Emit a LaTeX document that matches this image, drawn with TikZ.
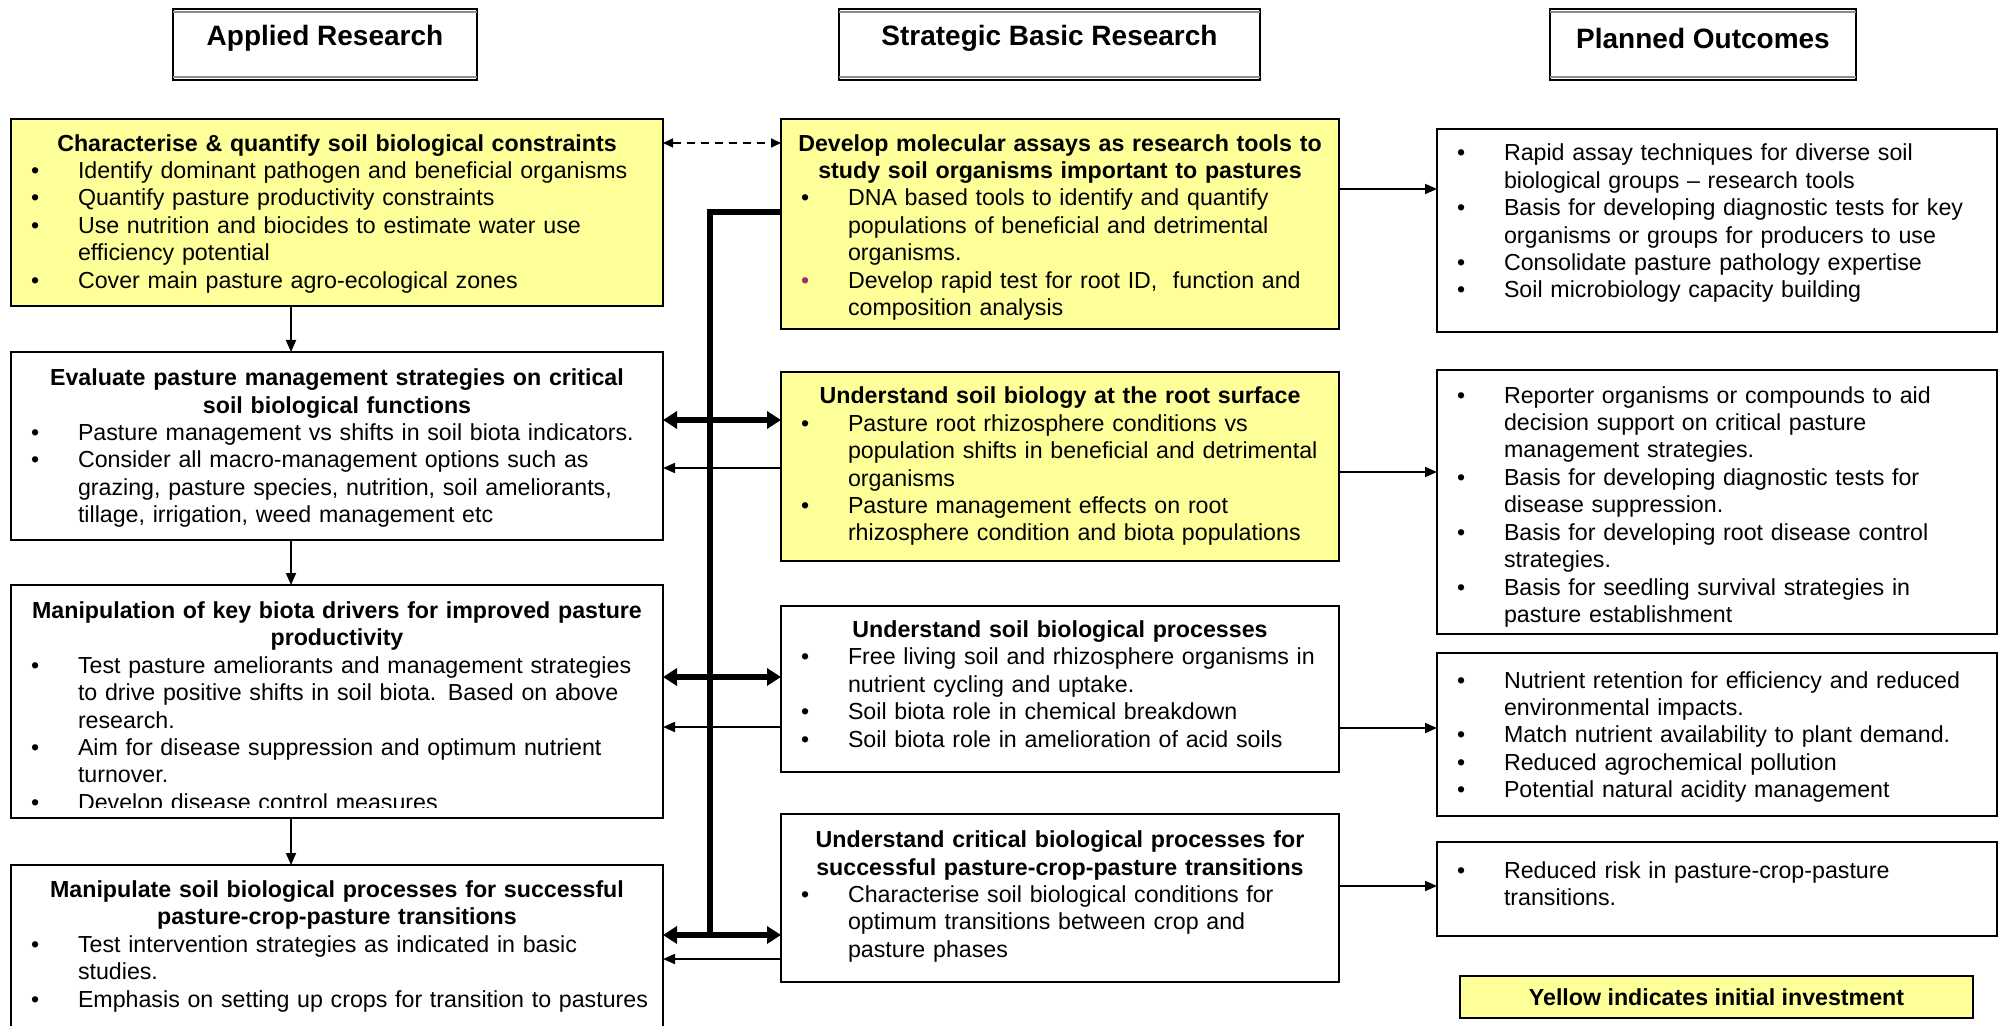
\documentclass[tikz,border=0pt]{standalone}
\usepackage{fontspec}
\setmainfont{Liberation Sans}
\usetikzlibrary{arrows.meta,calc}
\definecolor{boxyellow}{RGB}{255,255,153}
\definecolor{bulpurple}{RGB}{153,51,102}
\newlength{\bulx}\setlength{\bulx}{10pt}
\newlength{\bulw}\setlength{\bulw}{23.5pt}
\newlength{\txtx}\setlength{\txtx}{33.5pt}
\newcommand{\btitle}[1]{\par\noindent\makebox[\hsize][c]{\bfseries\strut #1}}
\newcommand{\bitemc}[2]{\par\noindent\hspace*{\bulx}\makebox[\bulw][l]{\textcolor{#1}{\textbullet}}\mbox{\strut #2}}
\newcommand{\bitem}[1]{\bitemc{black}{#1}}
\newcommand{\bcont}[1]{\par\noindent\hspace*{\txtx}\mbox{\strut #1}}
\newcommand{\mkbox}[6]{\node[#2, minimum width={(#5-#3)*0.5pt}, minimum height={(#6-#4)*0.5pt}] (#1) at ({(#3+#5)/2},{(#4+#6)/2}) {};}
\tikzset{
  box/.style={draw=black, line width=0.9pt, inner sep=0pt, outer sep=0pt},
  ybox/.style={box, fill=boxyellow},
  hbox/.style={draw=black, line width=0.8pt, inner sep=0pt, outer sep=0pt},
  htxt/.style={inner sep=0pt, font={\fontsize{14}{16}\selectfont\bfseries}},
  txt/.style={inner sep=0pt, outer sep=0pt, anchor=north west, font={\fontsize{11.6}{13.7}\selectfont}},
  thinarr/.style={line width=0.9pt, -{Triangle[length=6pt,width=5pt]}},
  thickarr/.style={line width=2.6pt, {Triangle[length=7pt,width=8.5pt]}-{Triangle[length=7pt,width=8.5pt]}},
  dasharr/.style={line width=0.8pt, dash pattern=on 4pt off 3pt, {Triangle[length=5pt,width=4.5pt]}-{Triangle[length=5pt,width=4.5pt]}},
  trunk/.style={line width=2.6pt},
}
\begin{document}
\begin{tikzpicture}[x=0.5pt,y=-0.5pt]
\useasboundingbox (0,0) rectangle (2000,1026);
\clip (0,0) rectangle (2000,1026);

% ---------- headers ----------
\mkbox{HA}{hbox}{173}{9}{477}{80}
\mkbox{HS}{hbox}{839}{9}{1260}{80}
\mkbox{HP}{hbox}{1550}{9}{1856}{80}
\foreach \h in {HA,HS,HP}{
  \draw[line width=1.4pt, black!45] ($(\h.north west)+(0,3)$) -- ($(\h.north east)+(0,3)$);
  \draw[line width=1.4pt, black!45] ($(\h.south west)+(0,-3)$) -- ($(\h.south east)+(0,-3)$);
}
\node[htxt] (hA) at (325,38.5) {Applied Research};
\node[htxt] (hS) at (1049.5,38.5) {Strategic Basic Research};
\node[htxt] (hP) at (1703,38.5) {Planned Outcomes};

% ---------- boxes ----------
\mkbox{A1}{ybox}{11}{119}{663}{306}
\mkbox{A2}{box}{11}{352}{663}{540}
\mkbox{A3}{box}{11}{585}{663}{818}
\mkbox{A4}{box}{11}{865}{663}{1045}
\mkbox{M1}{ybox}{781}{119}{1339}{329}
\mkbox{M2}{ybox}{781}{372}{1339}{561}
\mkbox{M3}{box}{781}{606}{1339}{772}
\mkbox{M4}{box}{781}{814}{1339}{982}
\mkbox{R1}{box}{1437}{129}{1997}{332}
\mkbox{R2}{box}{1437}{370}{1997}{634}
\mkbox{R3}{box}{1437}{653}{1997}{816}
\mkbox{R4}{box}{1437}{842}{1997}{936}
\node[ybox, minimum width=256.5pt, minimum height=21pt, font={\fontsize{11.6}{13.7}\selectfont\bfseries}] (LG) at (1716.5,997) {Yellow indicates initial investment};

% ---------- texts ----------
\node[txt, text width=326pt] (tA1) at ($(A1.north west)+(0,4.7)$) {%
\btitle{Characterise \& quantify soil biological constraints}
\bitem{Identify dominant pathogen and beneficial organisms}
\bitem{Quantify pasture productivity constraints}
\bitem{Use nutrition and biocides to estimate water use}
\bcont{efficiency potential}
\bitem{Cover main pasture agro-ecological zones}};

\node[txt, text width=326pt] (tA2) at ($(A2.north west)+(0,6.3)$) {%
\btitle{Evaluate pasture management strategies on critical}
\btitle{soil biological functions}
\bitem{Pasture management vs shifts in soil biota indicators.}
\bitem{Consider all macro-management options such as}
\bcont{grazing, pasture species, nutrition, soil ameliorants,}
\bcont{tillage, irrigation, weed management etc}};

\begin{scope}
\clip (A3.north west) rectangle ($(A3.south east)+(0,-11)$);
\node[txt, text width=326pt] (tA3) at ($(A3.north west)+(0,6)$) {%
\btitle{Manipulation of key biota drivers for improved pasture}
\btitle{productivity}
\bitem{Test pasture ameliorants and management strategies}
\bcont{to drive positive shifts in soil biota. Based on above}
\bcont{research.}
\bitem{Aim for disease suppression and optimum nutrient}
\bcont{turnover.}
\bitem{Develop disease control measures}};
\end{scope}

\node[txt, text width=326pt] (tA4) at ($(A4.north west)+(0,5)$) {%
\btitle{Manipulate soil biological processes for successful}
\btitle{pasture-crop-pasture transitions}
\bitem{Test intervention strategies as indicated in basic}
\bcont{studies.}
\bitem{Emphasis on setting up crops for transition to pastures}};

\node[txt, text width=279pt] (tM1) at ($(M1.north west)+(0,4.7)$) {%
\btitle{Develop molecular assays as research tools to}
\btitle{study soil organisms important to pastures}
\bitem{DNA based tools to identify and quantify}
\bcont{populations of beneficial and detrimental}
\bcont{organisms.}
\bitemc{bulpurple}{Develop rapid test for root ID, \ function and}
\bcont{composition analysis}};

\node[txt, text width=279pt] (tM2) at ($(M2.north west)+(0,4.5)$) {%
\btitle{Understand soil biology at the root surface}
\bitem{Pasture root rhizosphere conditions vs}
\bcont{population shifts in beneficial and detrimental}
\bcont{organisms}
\bitem{Pasture management effects on root}
\bcont{rhizosphere condition and biota populations}};

\node[txt, text width=279pt] (tM3) at ($(M3.north west)+(0,4)$) {%
\btitle{Understand soil biological processes}
\bitem{Free living soil and rhizosphere organisms in}
\bcont{nutrient cycling and uptake.}
\bitem{Soil biota role in chemical breakdown}
\bitem{Soil biota role in amelioration of acid soils}};

\node[txt, text width=279pt] (tM4) at ($(M4.north west)+(0,6.3)$) {%
\btitle{Understand critical biological processes for}
\btitle{successful pasture-crop-pasture transitions}
\bitem{Characterise soil biological conditions for}
\bcont{optimum transitions between crop and}
\bcont{pasture phases}};

\node[txt, text width=280pt] (tR1) at ($(R1.north west)+(0,4.5)$) {%
\bitem{Rapid assay techniques for diverse soil}
\bcont{biological groups \textendash\ research tools}
\bitem{Basis for developing diagnostic tests for key}
\bcont{organisms or groups for producers to use}
\bitem{Consolidate pasture pathology expertise}
\bitem{Soil microbiology capacity building}};

\node[txt, text width=280pt] (tR2) at ($(R2.north west)+(0,5.8)$) {%
\bitem{Reporter organisms or compounds to aid}
\bcont{decision support on critical pasture}
\bcont{management strategies.}
\bitem{Basis for developing diagnostic tests for}
\bcont{disease suppression.}
\bitem{Basis for developing root disease control}
\bcont{strategies.}
\bitem{Basis for seedling survival strategies in}
\bcont{pasture establishment}};

\node[txt, text width=280pt] (tR3) at ($(R3.north west)+(0,7.6)$) {%
\bitem{Nutrient retention for efficiency and reduced}
\bcont{environmental impacts.}
\bitem{Match nutrient availability to plant demand.}
\bitem{Reduced agrochemical pollution}
\bitem{Potential natural acidity management}};

\node[txt, text width=280pt] (tR4) at ($(R4.north west)+(0,8.7)$) {%
\bitem{Reduced risk in pasture-crop-pasture}
\bcont{transitions.}};

% ---------- connectors ----------
\coordinate (xD) at (291,0);
\draw[thinarr] (A1.south -| xD) -- (A2.north -| xD);
\draw[thinarr] (A2.south -| xD) -- (A3.north -| xD);
\draw[thinarr] (A3.south -| xD) -- (A4.north -| xD);

\coordinate (yDash) at (0,143);
\draw[dasharr] (A1.east |- yDash) -- (M1.west |- yDash);

\coordinate (xT) at (710,0);
\coordinate (yT) at (0,212);
\coordinate (yK1) at (0,420);
\coordinate (yK2) at (0,677);
\coordinate (yK3) at (0,935);
\draw[trunk] (M1.west |- yT) -- (xT |- yT) -- (xT |- yK3);
\draw[thickarr] (A2.east |- yK1) -- (M2.west |- yK1);
\draw[thickarr] (A3.east |- yK2) -- (M3.west |- yK2);
\draw[thickarr] (A4.east |- yK3) -- (M4.west |- yK3);

\coordinate (yN1) at (0,468);
\coordinate (yN2) at (0,727);
\coordinate (yN3) at (0,959);
\draw[thinarr] (M2.west |- yN1) -- (A2.east |- yN1);
\draw[thinarr] (M3.west |- yN2) -- (A3.east |- yN2);
\draw[thinarr] (M4.west |- yN3) -- (A4.east |- yN3);

\coordinate (yR1) at (0,189);
\coordinate (yR2) at (0,472);
\coordinate (yR3) at (0,728);
\coordinate (yR4) at (0,886);
\draw[thinarr] (M1.east |- yR1) -- (R1.west |- yR1);
\draw[thinarr] (M2.east |- yR2) -- (R2.west |- yR2);
\draw[thinarr] (M3.east |- yR3) -- (R3.west |- yR3);
\draw[thinarr] (M4.east |- yR4) -- (R4.west |- yR4);
\end{tikzpicture}
\end{document}
